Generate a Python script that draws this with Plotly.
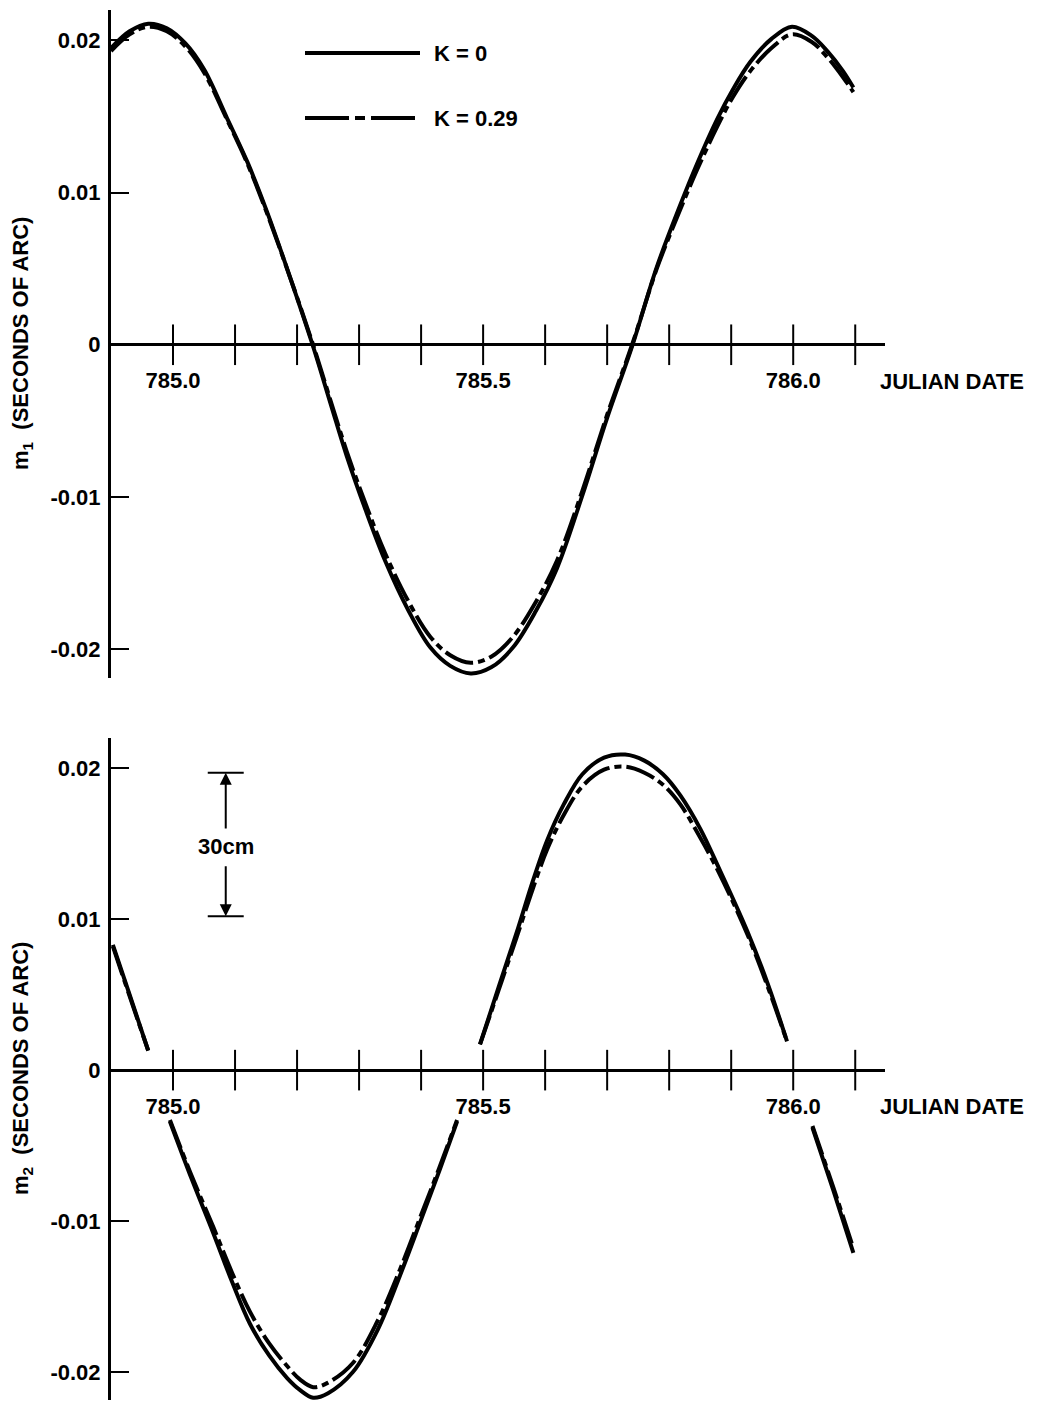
import plotly.graph_objects as go

# ---------------- data ----------------
x_tick_vals = [785.0, 785.1, 785.2, 785.3, 785.4, 785.5, 785.6, 785.7, 785.8, 785.9, 786.0, 786.1]
x_label_vals = [785.0, 785.5, 786.0]
x_label_text = ["785.0", "785.5", "786.0"]
y_tick_vals = [-0.02, -0.01, 0.0, 0.01, 0.02]
y_tick_text = ["-0.02", "-0.01", "0", "0.01", "0.02"]

# m1, K = 0 (solid)
m1_k0_x = [784.900, 784.930, 784.960, 784.990, 785.020, 785.050, 785.087, 785.120, 785.151, 785.189,
           785.225, 785.255, 785.280, 785.310, 785.342, 785.380, 785.415, 785.447, 785.480, 785.513,
           785.548, 785.585, 785.619, 785.660, 785.700, 785.741, 785.780, 785.818, 785.845, 785.877,
           785.903, 785.931, 785.965, 785.998, 786.030, 786.055, 786.080, 786.097]
m1_k0_y = [0.0195, 0.0206, 0.0211, 0.0208, 0.0198, 0.0181, 0.0149, 0.0120, 0.0088, 0.0044,
           0.0000, -0.0040, -0.0073, -0.0108, -0.0142, -0.0175, -0.0199, -0.0211, -0.0216, -0.0212,
           -0.0199, -0.0175, -0.0147, -0.0099, -0.0048, 0.0000, 0.0051, 0.0092, 0.0119, 0.0148,
           0.0168, 0.0186, 0.0201, 0.0209, 0.0203, 0.0193, 0.0180, 0.0169]

# m1, K = 0.29 (dash-dot)
m1_k29_x = m1_k0_x
m1_k29_y = [0.0193, 0.0204, 0.0209, 0.0206, 0.0196, 0.0179, 0.0148, 0.0119, 0.0087, 0.0044,
            0.0001, -0.0038, -0.0070, -0.0104, -0.0137, -0.0169, -0.0192, -0.0204, -0.0209, -0.0205,
            -0.0192, -0.0169, -0.0142, -0.0096, -0.0046, 0.0001, 0.0050, 0.0089, 0.0115, 0.0143,
            0.0163, 0.0180, 0.0195, 0.0204, 0.0199, 0.0189, 0.0176, 0.0166]

# m2, K = 0 (solid) -- None marks the breaks in the drawn curve
m2_k0_x = [784.903, 784.930, 784.960, None,
           784.995, 785.030, 785.065, 785.095, 785.124, 785.155, 785.184, 785.205, 785.226, 785.250,
           785.290, 785.330, 785.366, 785.400, 785.430, 785.458, None,
           785.495, 785.525, 785.554, 785.580, 785.603, 785.630, 785.660, 785.695, 785.729, 785.760,
           785.790, 785.818, 785.850, 785.880, 785.926, 785.960, 785.990, None,
           786.031, 786.065, 786.097]
m2_k0_y = [0.0083, 0.0050, 0.0013, None,
           -0.0034, -0.0072, -0.0108, -0.0140, -0.0168, -0.0189, -0.0204, -0.0212, -0.0217, -0.0214,
           -0.0200, -0.0172, -0.0136, -0.0099, -0.0066, -0.0034, None,
           0.0017, 0.0055, 0.0091, 0.0125, 0.0152, 0.0176, 0.0196, 0.0207, 0.0209, 0.0205,
           0.0196, 0.0182, 0.0160, 0.0134, 0.0092, 0.0056, 0.0019, None,
           -0.0038, -0.0080, -0.0121]

# m2, K = 0.29 (dash-dot)
m2_k29_x = m2_k0_x
m2_k29_y = [0.0082, 0.0049, 0.0013, None,
            -0.0033, -0.0070, -0.0104, -0.0134, -0.0160, -0.0181, -0.0196, -0.0205, -0.0210, -0.0207,
            -0.0194, -0.0166, -0.0132, -0.0096, -0.0064, -0.0033, None,
            0.0017, 0.0053, 0.0088, 0.0120, 0.0146, 0.0169, 0.0188, 0.0199, 0.0201, 0.0197,
            0.0189, 0.0176, 0.0154, 0.0131, 0.0090, 0.0054, 0.0019, None,
            -0.0037, -0.0078, -0.0118]

# 30 cm scale bar (bottom panel, data units)
bar_x = 785.085
bar_half = 0.029
bar_top = 0.0197
bar_bottom = 0.0102
bar_text_y = 0.0148
bar_arrow_top_from = 0.0159
bar_arrow_bottom_from = 0.0136

# ---------------- layout ----------------
W, H = 1040, 1403
FONT = "Liberation Sans, Arial, sans-serif"
FS = 22


def px_x(p):
    return p / W


def px_y(p):
    return 1 - p / H


X_RANGE = [784.9, 786.148]
X_DOM = [px_x(111), px_x(885)]
LINE_W = 4
DASH = "30px,5px,7px,5px"

fig = go.Figure()

panels = [
    ("x", "y", m1_k0_x, m1_k0_y, m1_k29_x, m1_k29_y),
    ("x2", "y2", m2_k0_x, m2_k0_y, m2_k29_x, m2_k29_y),
]
for xa, ya, sx, sy, dx, dy in panels:
    fig.add_trace(go.Scatter(x=sx, y=sy, xaxis=xa, yaxis=ya, mode="lines",
                             line=dict(color="black", width=LINE_W, shape="spline", smoothing=1.0),
                             connectgaps=False, name="K = 0", showlegend=False))
    fig.add_trace(go.Scatter(x=dx, y=dy, xaxis=xa, yaxis=ya, mode="lines",
                             line=dict(color="black", width=LINE_W, dash=DASH, shape="spline",
                                       smoothing=1.0),
                             connectgaps=False, name="K = 0.29", showlegend=False))
    # crossing tick marks on the zero axis
    fig.add_trace(go.Scatter(x=x_tick_vals, y=[0] * len(x_tick_vals), xaxis=xa, yaxis=ya,
                             mode="markers", cliponaxis=False, showlegend=False, hoverinfo="skip",
                             marker=dict(symbol="line-ns", size=29, color="black",
                                         line=dict(color="black", width=2))))

tickfont = dict(family=FONT, size=FS, color="black", weight="bold")

common_x = dict(range=X_RANGE, domain=X_DOM, anchor="free", showline=False, showgrid=False,
                zeroline=False, ticks="", tickvals=x_label_vals, ticktext=x_label_text,
                tickfont=tickfont, ticklabelstandoff=21, fixedrange=True)
common_y = dict(showline=True, linewidth=3, linecolor="black", showgrid=False, zeroline=True,
                zerolinewidth=3, zerolinecolor="black", ticks="inside", ticklen=18, tickwidth=2,
                tickcolor="black", tickvals=y_tick_vals, ticktext=y_tick_text, tickfont=tickfont,
                ticklabelstandoff=3, fixedrange=True)

fig.update_layout(
    width=W, height=H,
    margin=dict(l=0, r=0, t=0, b=0),
    paper_bgcolor="white", plot_bgcolor="white",
    showlegend=False,
    xaxis=dict(common_x, position=px_y(344)),
    yaxis=dict(common_y, domain=[px_y(678), px_y(10)], range=[-0.0219, 0.0220], anchor="x"),
    xaxis2=dict(common_x, position=px_y(1070)),
    yaxis2=dict(common_y, domain=[px_y(1400), px_y(738)], range=[-0.02185, 0.0220], anchor="x2"),
)

annotations = []
shapes = []

# axis names
for yc, txt in [(344, "m<sub>1</sub>  (SECONDS OF ARC)"), (1069, "m<sub>2</sub>  (SECONDS OF ARC)")]:
    annotations.append(dict(xref="paper", yref="paper", x=px_x(22), y=px_y(yc), text=txt,
                            textangle=-90, showarrow=False, xanchor="center", yanchor="middle",
                            font=dict(family=FONT, size=FS, color="black", weight="bold")))
for yc in [381, 1106]:
    annotations.append(dict(xref="paper", yref="paper", x=px_x(878), y=px_y(yc), text="JULIAN DATE",
                            showarrow=False, xanchor="left", yanchor="middle",
                            font=dict(family=FONT, size=FS, color="black", weight="bold")))

# legend
for yc, dash, label in [(53, "solid", "K = 0"), (118, "44px,6px,10px,6px", "K = 0.29")]:
    shapes.append(dict(type="line", xref="paper", yref="paper", x0=px_x(305), x1=px_x(420),
                       y0=px_y(yc), y1=px_y(yc), line=dict(color="black", width=4, dash=dash)))
    annotations.append(dict(xref="paper", yref="paper", x=px_x(432), y=px_y(yc), text=label,
                            showarrow=False, xanchor="left", yanchor="middle",
                            font=dict(family=FONT, size=FS, color="black", weight="bold")))

# 30 cm scale bar
for yb in [bar_top, bar_bottom]:
    shapes.append(dict(type="line", xref="x2", yref="y2", x0=bar_x - bar_half, x1=bar_x + bar_half,
                       y0=yb, y1=yb, line=dict(color="black", width=2)))
annotations.append(dict(xref="x2", yref="y2", x=bar_x, y=bar_text_y, text="30cm", showarrow=False,
                        xanchor="center", yanchor="middle",
                        font=dict(family=FONT, size=FS, color="black", weight="bold")))
for head, tail in [(bar_top, bar_arrow_top_from), (bar_bottom, bar_arrow_bottom_from)]:
    annotations.append(dict(xref="x2", yref="y2", axref="x2", ayref="y2", x=bar_x, y=head,
                            ax=bar_x, ay=tail, text="", showarrow=True, arrowhead=2,
                            arrowsize=1.2, arrowwidth=2, arrowcolor="black"))

fig.update_layout(annotations=annotations, shapes=shapes)

fig.write_html("out.html", config={"displayModeBar": False, "staticPlot": True},
               post_script="document.body.style.margin='0';document.body.style.padding='0';")
